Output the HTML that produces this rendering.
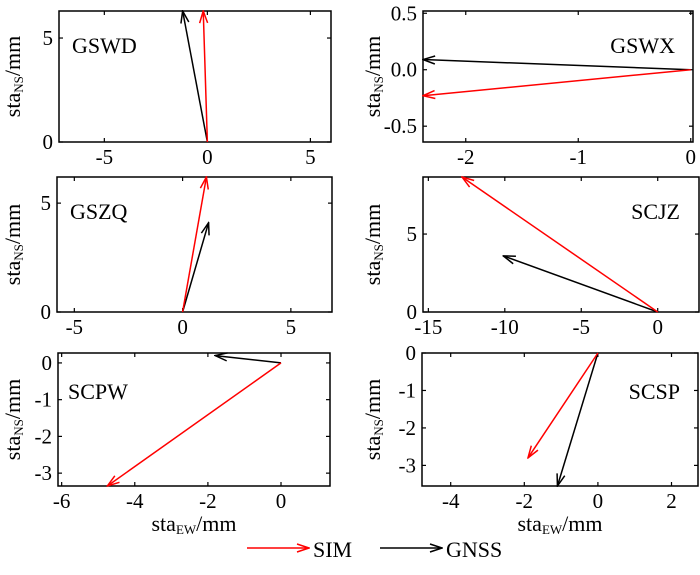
<!DOCTYPE html>
<html><head><meta charset="utf-8"><style>
html,body{margin:0;padding:0;background:#fff;}
svg, svg text{font-family:"Liberation Serif","DejaVu Serif",serif;}
</style></head><body>
<svg id="fig" width="700" height="570" viewBox="0 0 700 570" font-family="Liberation Serif, serif">
<defs>
<marker id="hr" markerWidth="14" markerHeight="10" refX="13" refY="5" orient="auto" markerUnits="userSpaceOnUse"><path d="M1,1 L13,5 L1,9" fill="none" stroke="#f00" stroke-width="1.5"/></marker>
<marker id="hk" markerWidth="14" markerHeight="10" refX="13" refY="5" orient="auto" markerUnits="userSpaceOnUse"><path d="M1,1 L13,5 L1,9" fill="none" stroke="#000" stroke-width="1.5"/></marker>
</defs>
</svg>
<script>
const stations = ["GSWD","GSWX","GSZQ","SCJZ","SCPW","SCSP"];
const simEW = [-0.2, -2.38, 1.1, -12.8, -4.75, -1.9];
const simNS = [6.3, -0.23, 6.2, 8.66, -3.35, -2.8];
const gnssEW = [-1.2, -2.38, 1.2, -10.1, -1.8, -1.1];
const gnssNS = [6.3, 0.09, 4.1, 3.6, 0.2, -3.55];
const xTicks = [[-5,0,5],[-2,-1,0],[-5,0,5],[-15,-10,-5,0],[-6,-4,-2,0],[-4,-2,0,2]];
const yTicks = [[0,5],[-0.5,0,0.5],[0,5],[0,5],[-3,-2,-1,0],[-3,-2,-1,0]];
const xLim = [[-7.2,6.0],[-2.38,0.02],[-5.8,6.9],[-15.35,2.7],[-6.1,1.34],[-4.78,2.72]];
const yLim = [[0,6.3],[-0.64,0.52],[0,6.2],[0,8.66],[-3.35,0.27],[-3.55,0]];
const yFmt = [0,1,0,0,0,0];

const frames = [[59,11,331,142],[423,11,693,142],[57,177,332,312],[423,177,699,312],[58,353,330,486],[422,353,698,486]];
const labelPos = [[72,53,'start'],[675,53,'end'],[70,219,'start'],[680,219,'end'],[68,399,'start'],[680,399,'end']];
const ylabX = [20,380,20,380,20,380];
const svg = document.getElementById('fig');
const NS='http://www.w3.org/2000/svg';
const FF='Liberation Serif, serif';
function mk(tag, attrs, parent){const e=document.createElementNS(NS,tag);for(const k in attrs)e.setAttribute(k,attrs[k]);if(tag==='text')e.setAttribute('font-family',FF);(parent||svg).appendChild(e);return e;}

stations.forEach((st,i)=>{
  const [x0,y0,x1,y1]=frames[i];
  const g=mk('g',{});
  
  
  const sx=v=>x0+(v-xLim[i][0])/(xLim[i][1]-xLim[i][0])*(x1-x0);
  const sy=v=>y1-(v-yLim[i][0])/(yLim[i][1]-yLim[i][0])*(y1-y0);
  const fr=mk('rect',{x:x0,y:y0,width:x1-x0,height:y1-y0,fill:'none',stroke:'#000','stroke-width':1.5},g);
  
  
  xTicks[i].forEach(t=>{
    const X=sx(t);
    mk('line',{x1:X,y1:y1,x2:X,y2:y1-4,stroke:'#000','stroke-width':1.2},g);
    mk('line',{x1:X,y1:y0,x2:X,y2:y0+4,stroke:'#000','stroke-width':1.2},g);
    const tx=mk('text',{x:X,y:y1+22,'text-anchor':'middle','font-size':21},g);
    tx.textContent=t;
    
    
  });
  yTicks[i].forEach(t=>{
    const Y=sy(t);
    mk('line',{x1:x0,y1:Y,x2:x0+4,y2:Y,stroke:'#000','stroke-width':1.2},g);
    mk('line',{x1:x1,y1:Y,x2:x1-4,y2:Y,stroke:'#000','stroke-width':1.2},g);
    const ty=mk('text',{x:x0-6,y:Y+7,'text-anchor':'end','font-size':21},g);
    ty.textContent=t.toFixed(yFmt[i]);
    
    
  });
  const yl=mk('text',{transform:`translate(${ylabX[i]},${(y0+y1)/2}) rotate(-90)`,'text-anchor':'middle','font-size':22},g);
  yl.innerHTML='sta<tspan font-size="13" dy="3">NS</tspan><tspan dy="-3">/mm</tspan>';
  
  
  const nm=mk('text',{x:labelPos[i][0],y:labelPos[i][1],'text-anchor':labelPos[i][2],'font-size':22},g);
  nm.textContent=st;
  
  
  const gl=mk('line',{x1:sx(0),y1:sy(0),x2:sx(gnssEW[i]),y2:sy(gnssNS[i]),stroke:'#000','stroke-width':1.5,'marker-end':'url(#hk)'},g);
  
  
  const rl=mk('line',{x1:sx(0),y1:sy(0),x2:sx(simEW[i]),y2:sy(simNS[i]),stroke:'#f00','stroke-width':1.5,'marker-end':'url(#hr)'},g);
  
  
});
[[194],[560]].forEach(([cx])=>{
  const t=mk('text',{x:cx,y:531,'text-anchor':'middle','font-size':22});
  t.innerHTML='sta<tspan font-size="13" dy="3">EW</tspan><tspan dy="-3">/mm</tspan>';
  
  
});
const l1=mk('line',{x1:247,y1:548,x2:309,y2:548,stroke:'#f00','stroke-width':1.5,'marker-end':'url(#hr)'});


const t1=mk('text',{x:313,y:557,'font-size':22});t1.textContent='SIM';


const l2=mk('line',{x1:380,y1:548,x2:442,y2:548,stroke:'#000','stroke-width':1.5,'marker-end':'url(#hk)'});


const t2=mk('text',{x:446,y:557,'font-size':22});t2.textContent='GNSS';


</script>
</body></html>
